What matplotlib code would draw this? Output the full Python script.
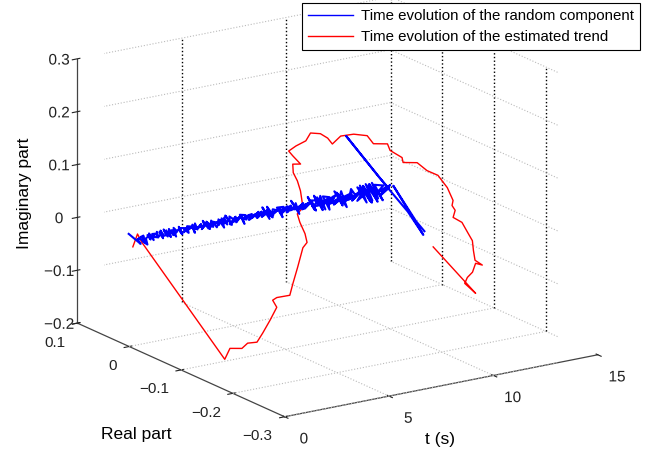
import numpy as np
import matplotlib
matplotlib.use("Agg")
import matplotlib.pyplot as plt
import matplotlib.patheffects as pe

plt.rcParams["font.family"] = ["Liberation Sans", "DejaVu Sans"]

# axis ticks
t_ticks = [0, 5, 10, 15]
t_labels = ["0", "5", "10", "15"]
real_ticks = [-0.3, -0.2, -0.1, 0, 0.1]
real_labels = ["\u22120.3", "\u22120.2", "\u22120.1", "0", "0.1"]
imag_ticks = [-0.2, -0.1, 0, 0.1, 0.2, 0.3]
imag_labels = ["\u22120.2", "\u22120.1", "0", "0.1", "0.2", "0.3"]

# estimated trend (red): time, real part, imaginary part
trend_t = [0.30, 0.35, 0.40, 1.50, 1.70, 1.90, 2.05, 2.20, 2.40, 2.65, 2.90,
           3.05, 3.15, 3.40, 3.60, 3.90, 4.30, 4.40, 4.55, 4.75, 4.90, 5.00,
           5.30, 5.50, 5.65, 5.80, 5.95, 6.10, 6.20, 6.35, 6.55, 6.70, 6.90,
           7.05, 7.20, 7.40, 7.70, 8.00, 8.20, 8.50, 8.65, 8.95, 9.05, 9.35,
           9.60, 9.85, 10.15, 10.45, 10.55, 10.65, 10.80, 11.00, 11.25, 11.40,
           11.60, 11.80, 12.00, 12.10, 12.20, 12.30, 12.40, 12.50, 12.60]
trend_real = [0.005, -0.002, -0.008, -0.124, -0.126, -0.141, -0.146, -0.158,
              -0.161, -0.165, -0.168, -0.154, -0.158, -0.173, -0.171, -0.168,
              -0.162, -0.166, -0.156, -0.138, -0.127, -0.134, -0.117, -0.103,
              -0.089, -0.082, -0.091, -0.070, -0.058, -0.066, -0.077, -0.080,
              -0.091, -0.099, -0.102, -0.110, -0.123, -0.137, -0.141, -0.156,
              -0.155, -0.166, -0.164, -0.179, -0.188, -0.199, -0.205, -0.204,
              -0.198, -0.200, -0.190, -0.199, -0.201, -0.203, -0.197, -0.192,
              -0.198, -0.181, -0.171, -0.157, -0.148, -0.165, -0.079]
trend_imag = [-0.016, 0.011, -0.002, -0.181, -0.161, -0.156, -0.145, -0.139,
              -0.122, -0.098, -0.074, -0.068, -0.062, -0.053, -0.033, -0.006,
              0.025, 0.036, 0.047, 0.059, 0.069, 0.083, 0.105, 0.116, 0.124,
              0.136, 0.139, 0.144, 0.147, 0.159, 0.172, 0.187, 0.189, 0.183,
              0.172, 0.189, 0.196, 0.197, 0.182, 0.186, 0.172, 0.161, 0.150,
              0.154, 0.141, 0.135, 0.112, 0.085, 0.072, 0.063, 0.044, 0.037,
              0.015, 0.001, -0.022, -0.044, -0.052, -0.057, -0.079, -0.096,
              -0.112, -0.124, -0.075]

# random component (blue), in thousandths, one sample every 0.05 s from 0.4 s
rand_real_m = [
    0, -3, 4, -2, 3, -4, 1, 4, -3, 2, -4, 3, -1, 4, -3, 2, -2, 4, -4, 1,
    3, -4, 2, -3, 4, -1, -3, 4, -2, 3, -4, 1, 4, -3, 2, -4, 3, -2, 4, -1,
    -4, 3, -2, 5, -3, 1, -5, 4, -2, 3, -4, 5, -1, -4, 3, -5, 2, 4, -3, 5,
    -2, 4, -5, 3, -1, 5, -4, 2, -3, 5, -5, 1, 4, -3, 5, -2, -4, 5, -3, 2,
    5, -4, 3, -6, 2, 5, -3, 6, -5, 1, 4, -6, 5, -2, 6, -4, 3, -5, 6, -1,
    -5, 6, -3, 4, -6, 2, 6, -5, 3, -6, 5, -1, -5, 6, -4, 3, -6, 5, -2, 6,
    -6, 4, -3, 7, -5, 2, -7, 6, -4, 5, -7, 3, 6, -5, 7, -2, -6, 7, -4, 5,
    -7, 6, -3, 7, -6, 4, -2, 7, -7, 5, -4, 8, -6, 3, 7, -8, 5, -3, 8, -6,
    4, -8, 7, -5, 8, -3, -7, 8, -6, 5, -8, 7, -2, 8, -7, 6, -8, 4, 8, -6,
    -8, 7, -4, 9, -7, 5, -9, 8, -3, 7, -9, 6, -8, 9, -5, 8, -9, 4, 9, -7,
    6, -9, 8, -5, 9, -8, 3, 9, -9, 7, -6, 10, -8, 5, -10, 9, -7, 8, -10, 6,
    -9, 10, -6, 9, -10, 7, -8, 10, -5, 9, -10, 8, -7, 10, -9, 6, -10, 9, -8, 10,
    0]
rand_imag_m = [
    0, 3, -4, 5, -2, -6, 4, -9, -12, -3, 6, 2, -5, 4, -6, 3, 5, -4, -2, 6,
    -5, 2, 4, -6, 5, -3, -1, 6, -5, 4, -6, 2, 5, -4, 3, -7, 6, 1, -5, 4,
    -3, 6, -6, 2, 5, -5, 7, -2, -6, 4, 6, -4, 3, -7, 5, -1, 7, -5, 2, -6,
    6, -3, 5, -7, 1, 7, -4, 6, -6, 3, -2, 7, -7, 5, 2, -6, 6, -3, 7, -5,
    4, -8, 6, -2, 7, -6, 3, 8, -5, -7, 6, 2, -8, 7, -4, 5, -7, 8, -3, 6,
    -8, 4, 7, -6, 8, -5, -2, 8, -7, 6, -8, 3, 7, -6, 9, -4, 5, -8, 7, -3,
    8, -7, 2, 9, -8, 6, -5, 9, -3, -8, 7, 4, -9, 8, -6, 7, -9, 3, 9, -7,
    6, -9, 8, -4, 10, -8, 5, -9, 9, -6, 2, 10, -9, 7, -7, 10, -5, 8, -10, 6,
    -8, 10, -4, 9, -10, 7, -6, 11, -9, 5, 10, -8, -3, 11, -10, 8, -9, 11, -6, 9,
    -11, 7, 10, -9, 12, -7, 4, -11, 11, -8, 9, -12, 6, 11, -10, 8, -12, 12, -5, 10,
    -12, 9, -8, 12, -11, 6, 13, -10, 9, -12, 11, -7, 12, -13, 8, 10, -12, 13, -9, 11,
    -13, 10, -11, 13, -8, 12, -14, 11, -10, 13, -12, 9, 14, -11, 12, -13, 10, -14, 13, -9,
    4]
# first samples and the jumps at the end of the record
rand_head_t = [0.30, 0.35]
rand_head_real = [0.013, -0.008]
rand_head_imag = [0.005, -0.005]
rand_tail_t = [12.45, 12.50, 12.55, 12.60, 12.65, 12.70, 12.75, 12.80]
rand_tail_real = [0.020, 0.085, 0.005, -0.030, -0.058, 0.002, -0.040, -0.054]
rand_tail_imag = [0.015, 0.063, -0.002, -0.030, -0.062, 0.004, -0.045, -0.058]

n = min(len(rand_real_m), len(rand_imag_m))
rand_t = np.concatenate([rand_head_t, 0.4 + 0.05 * np.arange(n), rand_tail_t])
rand_real = np.concatenate([rand_head_real, np.array(rand_real_m[:n]) / 1000, rand_tail_real])
rand_imag = np.concatenate([rand_head_imag, np.array(rand_imag_m[:n]) / 1000, rand_tail_imag])

fig = plt.figure(figsize=(6.55, 4.55), dpi=100)
ax = fig.add_axes([0.006, 0.032, 1.0, 1.0], projection="3d", computed_zorder=False)
ax.set_proj_type("ortho")
ax.view_init(elev=17.4, azim=-123.5)
ax.set_box_aspect((4, 4, 2.95), zoom=1.278)

ax.set_xlim(0, 15)
ax.set_ylim(-0.3, 0.1)
ax.set_zlim(-0.2, 0.3)
ax.set_xticks(t_ticks)
ax.set_yticks(real_ticks)
ax.set_zticks(imag_ticks)
ax.tick_params(labelsize=11, colors="#222222")
ax.tick_params(axis="x", pad=-2)
ax.tick_params(axis="y", pad=-1.5)
ax.tick_params(axis="z", pad=-2)

# small offsets so the tick labels sit where MATLAB puts them
shift_t = [pe.Stroke(offset=(8.6, -2.2), linewidth=0.01, foreground="#222222")]
shift_imag = [pe.Stroke(offset=(0, 3), linewidth=0.01, foreground="#222222")]
ax.set_xticklabels(t_labels, path_effects=shift_t)
ax.set_yticklabels(real_labels, ha="right")
ax.set_zticklabels(imag_labels, path_effects=shift_imag)

ax.grid(False)
for axis in (ax.xaxis, ax.yaxis, ax.zaxis):
    axis.set_pane_color((1, 1, 1, 0))
    axis.pane.set_edgecolor((1, 1, 1, 0))
    axis.line.set_color("#444444")
    axis.line.set_linewidth(0.9)

# grid on the back walls and the floor
zlo, zhi = imag_ticks[0], imag_ticks[-1]
rlo, rhi = real_ticks[0], real_ticks[-1]
for tt in t_ticks[1:]:
    ax.plot([tt, tt], [rhi, rhi], [zlo, zhi], color="black", ls=":", lw=1.0, zorder=1)
    ax.plot([tt, tt], [rlo, rhi], [zlo, zlo], color="#bbbbbb", ls=":", lw=0.8, zorder=1)
for rr in real_ticks[:-1]:
    ax.plot([15, 15], [rr, rr], [zlo, zhi], color="black", ls=":", lw=1.0, zorder=1)
    ax.plot([0, 15], [rr, rr], [zlo, zlo], color="#bbbbbb", ls=":", lw=0.8, zorder=1)
for zz in imag_ticks[1:]:
    ax.plot([0, 15], [rhi, rhi], [zz, zz], color="#bbbbbb", ls=":", lw=0.8, zorder=1)
    ax.plot([15, 15], [rlo, rhi], [zz, zz], color="#bbbbbb", ls=":", lw=0.8, zorder=1)

l1, = ax.plot(rand_t, rand_real, rand_imag, color="blue", lw=1.5, zorder=3,
              label="Time evolution of the random component")
l2, = ax.plot(trend_t, trend_real, trend_imag, color="red", lw=1.0, zorder=2,
              label="Time evolution of the estimated trend")

fig.text(0.037, 0.576, "Imaginary part", rotation=90, fontsize=12.5, ha="center", va="center")
fig.text(0.208, 0.044, "Real part", fontsize=12.5, ha="center", va="center")
fig.text(0.672, 0.035, "t (s)", fontsize=12.5, ha="center", va="center")

leg = fig.legend(handles=[l1, l2], loc="upper right", bbox_to_anchor=(0.977, 0.993),
                 fontsize=10.8, fancybox=False, framealpha=1, edgecolor="black",
                 handlelength=2.95, handletextpad=0.55, borderpad=0.4,
                 labelspacing=0.45, borderaxespad=0)
leg.get_frame().set_linewidth(0.8)
leg.get_lines()[0].set_linewidth(1.0)

fig.savefig("out.png", dpi=100)
